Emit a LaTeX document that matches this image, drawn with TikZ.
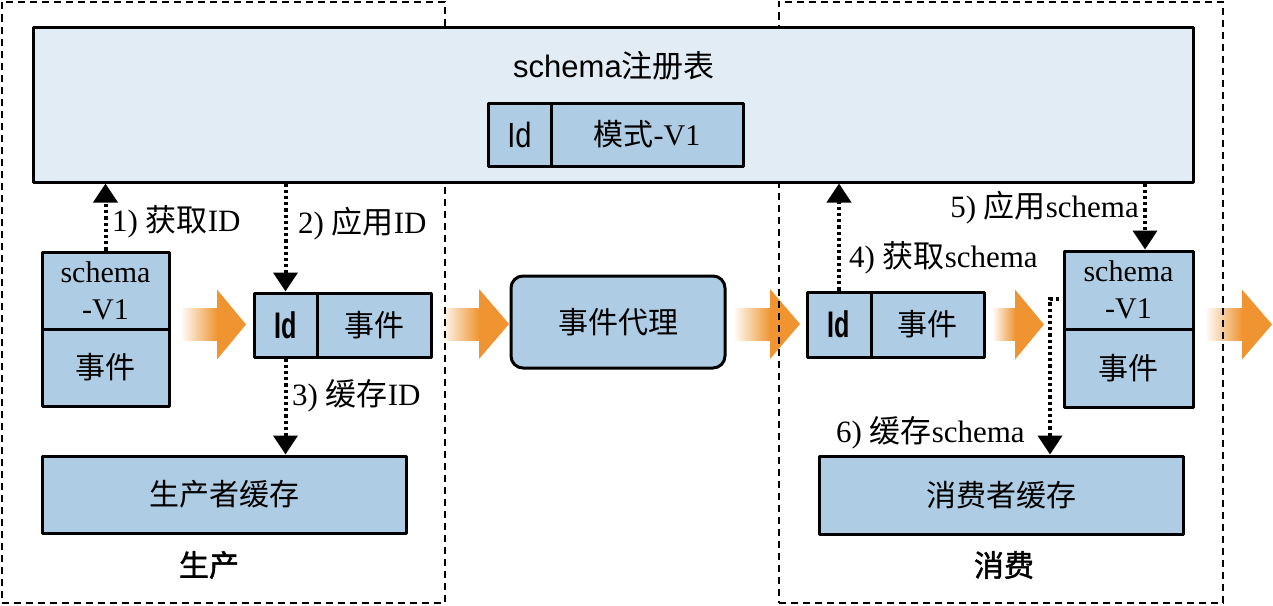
\documentclass[tikz,border=0pt]{standalone}
\usepackage{fontspec}
\usepackage{graphicx}
\setmainfont{Liberation Serif}
\setsansfont{Liberation Sans}
\newfontfamily\cjk{Noto Sans CJK SC}
\newfontfamily\cjkb[FakeBold=1.5]{Noto Sans CJK SC}
\usetikzlibrary{arrows.meta,calc}
\definecolor{boxblue}{HTML}{AECCE3}
\definecolor{regblue}{HTML}{E1ECF5}
\definecolor{arr}{HTML}{EF9430}
\tikzset{
  cell/.style={draw=black, line width=3pt, line join=round, fill=boxblue, inner sep=0pt,
    font=\fontsize{30}{37}\selectfont, align=center},
  dotarrow/.style={line width=4pt, dash pattern=on 3.2pt off 3pt,
    -{Triangle[width=24pt,length=19pt]}},
  lbl/.style={inner sep=0pt, font=\fontsize{31}{36}\selectfont},
  outerbox/.style={draw, line width=2pt, dash pattern=on 7pt off 5pt, inner sep=0pt},
  grouplbl/.style={inner sep=0pt, font=\cjkb\fontsize{30}{36}\selectfont},
}
\newcommand\fatarrow[4]{%
  \shade[left color=white, middle color=arr!80, right color=arr] (#1,#4-16) rectangle (#2+0.5,#4+16);
  \fill[arr] (#2,#4-35) -- (#3,#4) -- (#2,#4+35) -- cycle;}
\newcommand\idtxt[1]{{\sffamily\bfseries\fontsize{37}{40}\selectfont\scalebox{0.68}[1]{#1}}}
\begin{document}
\begin{tikzpicture}[x=1pt,y=-1pt]
\useasboundingbox (0,0) rectangle (1273,605);

% fat orange arrows
\fatarrow{180}{217}{246}{324.5}
\fatarrow{440}{479}{509}{324}
\fatarrow{733}{770}{800}{324}
\fatarrow{992}{1015}{1044}{324.5}
\fatarrow{1205}{1242}{1272}{324.5}

% dashed group boxes
\node[outerbox, minimum width=443, minimum height=601] (prod) at (223.5,302) {};
\node[outerbox, minimum width=444, minimum height=601] (cons) at (1001,302) {};

% registry
\node[cell, fill=regblue, minimum width=1160, minimum height=155] (reg) at (613,104.5) {};
\node[inner sep=0pt, font=\sffamily\fontsize{31}{36}\selectfont] (title) at (614,66) {schema{\cjk 注册表}};
\node[cell, minimum width=63, minimum height=63] (regid) at (519.5,134.5)
  {{\sffamily\fontsize{35}{40}\selectfont\scalebox{0.83}[1]{Id}}};
\node[cell, minimum width=192, minimum height=63] (regmode) at (647,134.5) {{\cjk 模式}-V1};

% producer side
\node[cell, minimum width=127, minimum height=77] (ls1) at (105.5,290.5) {schema\\-V1};
\node[cell, minimum width=127, minimum height=77] (ls2) at (105.5,367.5) {\cjk 事件};
\node[cell, minimum width=63, minimum height=64] (lid) at (285.5,325) {\idtxt{Id}};
\node[cell, minimum width=114, minimum height=64] (lev) at (374,325) {\cjk 事件};
\node[cell, minimum width=364, minimum height=77] (pcache) at (224,494.5) {\cjk 生产者缓存};
\node[grouplbl] (prodlbl) at (209,565) {生产};

% broker
\node[cell, rounded corners=12pt, minimum width=214, minimum height=92] (broker) at (618,322) {\cjk 事件代理};

% consumer side
\node[cell, minimum width=64, minimum height=65] (rid) at (839,324.5) {\idtxt{Id}};
\node[cell, minimum width=113, minimum height=65] (rev) at (927.5,324.5) {\cjk 事件};
\node[cell, minimum width=129, minimum height=78] (rs1) at (1128.5,290) {schema\\-V1};
\node[cell, minimum width=129, minimum height=78] (rs2) at (1128.5,368) {\cjk 事件};
\node[cell, minimum width=364, minimum height=78] (ccache) at (1001,495) {\cjk 消费者缓存};
\node[grouplbl] (conslbl) at (1004,565) {消费};

% dotted connectors
\draw[dotarrow] (ls1.north) -- (ls1.north |- reg.south);
\draw[dotarrow] (lid.north |- reg.south) -- (lid.north);
\draw[dotarrow] (lid.south) -- (lid.south |- pcache.north);
\draw[dotarrow] (rid.north) -- (rid.north |- reg.south);
\coordinate (c5) at ($(rs1.north)+(16.5,0)$);
\draw[dotarrow] (c5 |- reg.south) -- (c5);
\coordinate (c6a) at (1059,299);
\coordinate (c6b) at (1050,299);
\draw[dotarrow] (c6a) -- (c6b) -- (c6b |- ccache.north);

% labels
\node[lbl, anchor=west] (l1) at (112,222) {1) {\cjk 获取}ID};
\node[lbl, anchor=west] (l2) at (298,224) {2) {\cjk 应用}ID};
\node[lbl, anchor=west] (l3) at (292,396) {3) {\cjk 缓存}ID};
\node[lbl, anchor=west] (l4) at (849,258) {4) {\cjk 获取}schema};
\node[lbl, anchor=east] (l5) at (1139,208) {5) {\cjk 应用}schema};
\node[lbl, anchor=west] (l6) at (836,433) {6) {\cjk 缓存}schema};
\end{tikzpicture}
\end{document}
